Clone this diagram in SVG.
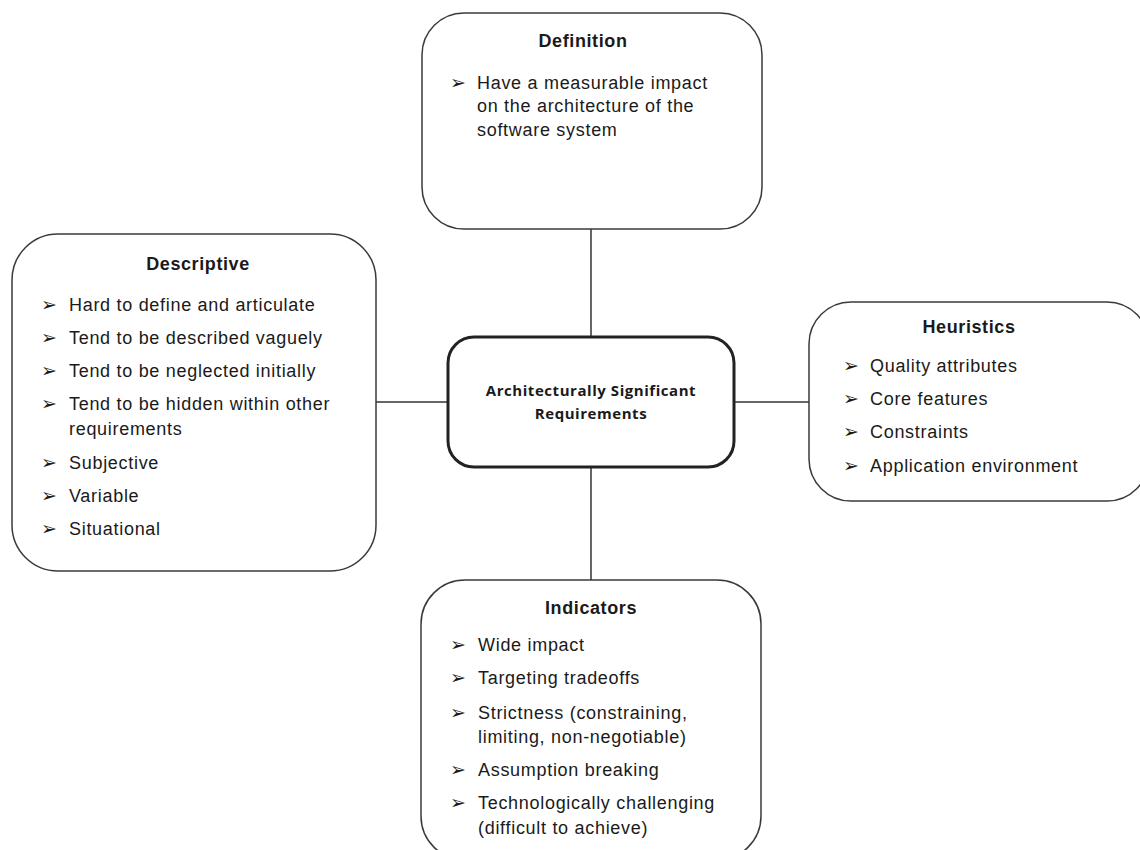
<svg xmlns="http://www.w3.org/2000/svg" width="1140" height="850" viewBox="0 0 1140 850">
<style>
.box{fill:#fff;stroke:#3a3a3a;stroke-width:1.5}
.center{fill:#fff;stroke:#222;stroke-width:3}
.t{font-family:"Liberation Sans",Arial,sans-serif;font-size:18px;letter-spacing:0.6px;font-weight:bold;fill:#1a1a1a;text-anchor:middle}
.i{font-family:"Liberation Sans",Arial,sans-serif;font-size:18px;letter-spacing:0.7px;fill:#1a1a1a}
.b{font-family:"DejaVu Sans",sans-serif;font-size:19px;font-weight:bold;fill:#1a1a1a}
.c{font-family:"Open Sans","Liberation Sans",sans-serif;font-size:15px;letter-spacing:0.55px;font-weight:bold;fill:#1a1a1a;text-anchor:middle}
.ln{stroke:#333;stroke-width:1.5;fill:none}
</style>
<defs>
<filter id="glow" x="-10%" y="-10%" width="120%" height="120%">
<feGaussianBlur in="SourceAlpha" stdDeviation="1.5"/>
<feFlood flood-color="#8a70b0" flood-opacity="0.6"/>
<feComposite operator="in" in2="SourceAlpha"/>
</filter>
</defs>
<rect width="1140" height="850" fill="#fff"/>
<g id="connectors">
<line class="ln" x1="591" y1="229" x2="591" y2="337"/>
<line class="ln" x1="591" y1="467" x2="591" y2="580"/>
<line class="ln" x1="376" y1="402" x2="448" y2="402"/>
<line class="ln" x1="734" y1="402" x2="809" y2="402"/>
</g>
<g id="definition">
<rect class="box" x="422" y="13" width="340" height="216" rx="42"/>
<text class="t" x="583" y="47">Definition</text>
<text class="b" x="450" y="89">➢</text>
<text class="i" x="477" y="89">Have a measurable impact</text>
<text class="i" x="477" y="112">on the architecture of the</text>
<text class="i" x="477" y="136">software system</text>
</g>
<g id="descriptive">
<rect class="box" x="12" y="234" width="364" height="337" rx="46"/>
<text class="t" x="198" y="270">Descriptive</text>
<text class="b" x="41" y="311">➢</text><text class="i" x="69" y="311">Hard to define and articulate</text>
<text class="b" x="41" y="344">➢</text><text class="i" x="69" y="344">Tend to be described vaguely</text>
<text class="b" x="41" y="377">➢</text><text class="i" x="69" y="377">Tend to be neglected initially</text>
<text class="b" x="41" y="410">➢</text><text class="i" x="69" y="410">Tend to be hidden within other</text>
<text class="i" x="69" y="435">requirements</text>
<text class="b" x="41" y="469">➢</text><text class="i" x="69" y="469">Subjective</text>
<text class="b" x="41" y="502">➢</text><text class="i" x="69" y="502">Variable</text>
<text class="b" x="41" y="535">➢</text><text class="i" x="69" y="535">Situational</text>
</g>
<g id="center">
<rect x="448" y="337" width="286" height="130" rx="26" fill="#fff" filter="url(#glow)" transform="translate(1,1)"/>
<rect class="center" x="448" y="337" width="286" height="130" rx="26"/>
<text class="c" x="591" y="396">Architecturally Significant</text>
<text class="c" x="591" y="419">Requirements</text>
</g>
<g id="heuristics">
<rect class="box" x="809" y="302" width="340" height="199" rx="42"/>
<text class="t" x="969" y="333">Heuristics</text>
<text class="b" x="843" y="372">➢</text><text class="i" x="870" y="372">Quality attributes</text>
<text class="b" x="843" y="405">➢</text><text class="i" x="870" y="405">Core features</text>
<text class="b" x="843" y="438">➢</text><text class="i" x="870" y="438">Constraints</text>
<text class="b" x="843" y="472">➢</text><text class="i" x="870" y="472">Application environment</text>
</g>
<g id="indicators">
<rect class="box" x="421" y="580" width="340" height="280" rx="44"/>
<text class="t" x="591" y="614">Indicators</text>
<text class="b" x="450" y="651">➢</text><text class="i" x="478" y="651">Wide impact</text>
<text class="b" x="450" y="684">➢</text><text class="i" x="478" y="684">Targeting tradeoffs</text>
<text class="b" x="450" y="719">➢</text><text class="i" x="478" y="719">Strictness (constraining,</text>
<text class="i" x="478" y="743">limiting, non-negotiable)</text>
<text class="b" x="450" y="776">➢</text><text class="i" x="478" y="776">Assumption breaking</text>
<text class="b" x="450" y="809">➢</text><text class="i" x="478" y="809">Technologically challenging</text>
<text class="i" x="478" y="834">(difficult to achieve)</text>
</g>
</svg>
